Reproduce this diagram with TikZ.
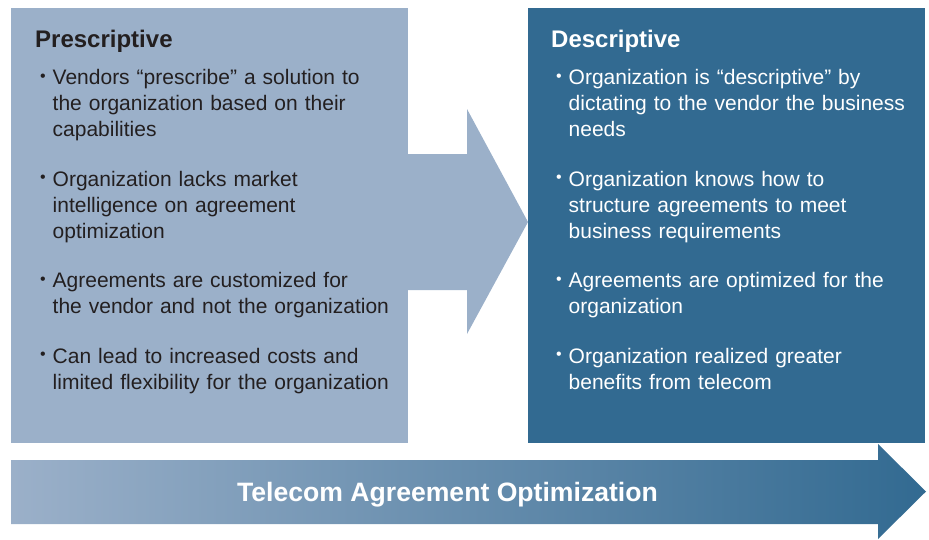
\documentclass[tikz,border=0pt]{standalone}
\usepackage{fontspec}
\setmainfont{Liberation Sans}
\usepackage{xcolor}
\usetikzlibrary{positioning}

\definecolor{presccol}{RGB}{155,176,201}
\definecolor{descrcol}{RGB}{50,106,145}
\definecolor{inkcol}{RGB}{35,31,32}

% panel heading and one bullet with hanging lines
\newcommand{\paneltitle}[1]{{\fontsize{24}{26}\selectfont\bfseries #1}\par\vspace{-12pt}}
\newcommand{\bpoint}[1]{\par\vspace{23.5pt}\noindent\hspace*{5pt}%
  \makebox[12.5pt][l]{\raisebox{3.5pt}{\fontsize{16}{16}\selectfont\textbullet}}%
  \parbox[t]{360pt}{\raggedright #1\strut}\par\prevdepth=\dp\strutbox}

\begin{document}
\begin{tikzpicture}[x=1pt, y=-1pt,
	panel/.style={minimum width=397, minimum height=435, inner sep=0, outer sep=0},
	coltext/.style={anchor=north west, inner sep=0, text width=385, align=left, font=\fontsize{21}{26}\selectfont}
]
\useasboundingbox (0,0) rectangle (929,539);

%panels
\node[panel, fill=presccol] (presc) at (209.5,225.5) {};
\node[panel, fill=descrcol] (descr) at (726.5,225.5) {};

%arrow between the panels
\fill[presccol] (presc.east |- 0,154) -- (467,154) -- (467,109) -- (descr.west |- 0,222)
	-- (467,334) -- (467,290) -- (presc.east |- 0,290) -- cycle;

%bottom arrow
\shade[left color=presccol, right color=descrcol] (11,460) -- (878,460) -- (878,444) -- (926,491.5)
	-- (878,539) -- (878,524) -- (11,524) -- cycle;
\node[anchor=base, text=white, inner sep=0, font=\fontsize{26.6}{30}\selectfont\bfseries] (optim) at (447.5,501.5) {Telecom Agreement Optimization};

%text in the panels
\node[coltext, text=inkcol] (presctxt) at (35,29.8) {%
	\paneltitle{Prescriptive}
	\bpoint{Vendors “prescribe” a solution to\\the organization based on their\\capabilities}
	\bpoint{Organization lacks market\\intelligence on agreement\\optimization}
	\bpoint{Agreements are customized for\\the vendor and not the organization}
	\bpoint{Can lead to increased costs and\\limited flexibility for the organization}};
\node[coltext, text=white] (descrtxt) at (551,29.8) {%
	\paneltitle{Descriptive}
	\bpoint{Organization is “descriptive” by\\dictating to the vendor the business\\needs}
	\bpoint{Organization knows how to\\structure agreements to meet\\business requirements}
	\bpoint{Agreements are optimized for the\\organization}
	\bpoint{Organization realized greater\\benefits from telecom}};
\end{tikzpicture}
\end{document}
